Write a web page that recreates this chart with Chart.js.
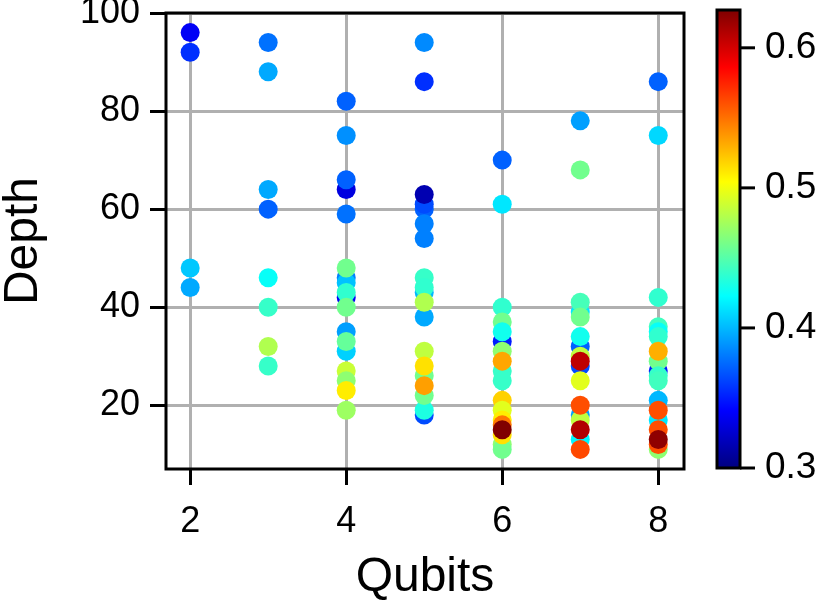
<!DOCTYPE html>
<html>
<head>
<meta charset="utf-8">
<script src="https://cdn.jsdelivr.net/npm/chart.js@4"></script>
<style>
  html, body { margin: 0; padding: 0; background: #fff; }
</style>
</head>
<body>
<canvas id="chart" width="830" height="602"></canvas>
<script>
// ============================== DATA

const qubits = [
  2, 2, 2, 2,
  3, 3, 3, 3, 3, 3, 3, 3,
  4, 4, 4, 4, 4, 4, 4, 4, 4, 4, 4, 4, 4, 4, 4, 4, 4, 4,
  5, 5, 5, 5, 5, 5, 5, 5, 5, 5, 5, 5, 5, 5, 5, 5, 5, 5, 5,
  6, 6, 6, 6, 6, 6, 6, 6, 6, 6, 6, 6, 6, 6, 6, 6, 6, 6,
  7, 7, 7, 7, 7, 7, 7, 7, 7, 7, 7, 7, 7, 7, 7, 7, 7,
  8, 8, 8, 8, 8, 8, 8, 8, 8, 8, 8, 8, 8, 8, 8, 8, 8, 8,
];

const depth = [
  96, 92, 48, 44,
  94, 88, 64, 60, 46, 40, 32, 28,
  82, 75, 64, 66, 59, 42, 46, 45, 48, 43, 40, 35, 31, 33, 27, 25, 23, 19,
  94, 86, 60, 61, 63, 57, 54, 38, 43, 46, 44, 41, 18, 19, 26, 22, 31, 28, 24,
  70, 61, 33, 40, 37, 35, 31, 27, 25, 29, 21, 19, 17, 12, 11, 14, 16, 15,
  78, 68, 39, 41, 38, 32, 28, 34, 30, 25, 29, 18, 13, 17, 20, 15, 11,
  86, 75, 42, 36, 35, 34, 27, 29, 26, 25, 31, 21, 17, 19, 11, 12, 15, 13,
];

const score = [
  0.338, 0.356, 0.405, 0.395,
  0.377, 0.395, 0.395, 0.372, 0.425, 0.440, 0.479, 0.440,
  0.372, 0.387, 0.331, 0.372, 0.377, 0.338, 0.382, 0.403, 0.459, 0.438, 0.459, 0.392, 0.408, 0.455, 0.487, 0.468, 0.510, 0.473,
  0.385, 0.356, 0.372, 0.365, 0.316, 0.382, 0.382, 0.395, 0.400, 0.440, 0.438, 0.479, 0.365, 0.432, 0.459, 0.459, 0.484, 0.514, 0.535,
  0.372, 0.415, 0.350, 0.438, 0.459, 0.428, 0.468, 0.440, 0.440, 0.533, 0.519, 0.495, 0.510, 0.468, 0.459, 0.514, 0.548, 0.627,
  0.392, 0.459, 0.415, 0.445, 0.459, 0.372, 0.365, 0.428, 0.484, 0.495, 0.607, 0.392, 0.420, 0.484, 0.561, 0.611, 0.563,
  0.372, 0.410, 0.438, 0.443, 0.425, 0.438, 0.350, 0.459, 0.440, 0.443, 0.530, 0.400, 0.415, 0.561, 0.468, 0.561, 0.561, 0.622,
];

const xTicks = [2, 4, 6, 8];
const yTicks = [20, 40, 60, 80, 100];
const cbTicks = [0.3, 0.4, 0.5, 0.6];
const cbMin = 0.3;
const cbMax = 0.627;

// ============================== UTILS

const FONT = '"Liberation Sans", Arial, sans-serif';

function jet(v) {
  const t = Math.min(1, Math.max(0, (v - cbMin) / (cbMax - cbMin)));
  const c = (k) => Math.round(255 * Math.min(1, Math.max(0, 1.5 - Math.abs(4 * t - k))));
  return 'rgb(' + c(3) + ',' + c(2) + ',' + c(1) + ')';
}

function frameBox() {
  return {
    id: 'frameBox',
    afterDraw(chart) {
      const { ctx, chartArea: { left, top, width, height } } = chart;
      ctx.save();
      ctx.lineWidth = 3;
      ctx.strokeStyle = '#000';
      ctx.strokeRect(left, top, width, height);
      ctx.restore();
    }
  }
}

function colorBar() {
  return {
    id: 'colorBar',
    afterDraw(chart) {
      const ctx = chart.ctx;
      const x = 717, w = 23, top = 10, bottom = 468;
      const yFor = (v) => bottom - (v - cbMin) / (cbMax - cbMin) * (bottom - top);

      ctx.save();
      const grad = ctx.createLinearGradient(0, bottom, 0, top);
      for (let i = 0; i <= 40; i++) {
        grad.addColorStop(i / 40, jet(cbMin + (cbMax - cbMin) * i / 40));
      }
      ctx.fillStyle = grad;
      ctx.fillRect(x, top, w, bottom - top);
      ctx.lineWidth = 3;
      ctx.strokeStyle = '#000';
      ctx.strokeRect(x, top, w, bottom - top);

      ctx.font = '37px ' + FONT;
      ctx.fillStyle = '#000';
      ctx.textAlign = 'left';
      ctx.textBaseline = 'middle';
      for (const v of cbTicks) {
        const y = yFor(v);
        ctx.beginPath();
        ctx.moveTo(x + w, y);
        ctx.lineTo(x + w + 15, y);
        ctx.stroke();
        ctx.fillText(v.toFixed(1), x + w + 25, y);
      }
      ctx.restore();
    }
  }
}

// ============================== CHART JS

const axisCommon = {
  type: 'linear',
  border: { display: false },
  grid: {
    color: '#b0b0b0',
    lineWidth: 3,
    tickLength: 16,
    tickColor: '#000',
    tickWidth: 3,
  },
};

const tickFont = { family: FONT, size: 36 };

function noPad(scale) {
  scale.paddingTop = 0;
  scale.paddingBottom = 0;
  scale.paddingLeft = 0;
  scale.paddingRight = 0;
}

const config = {
  type: 'scatter',
  data: {
    datasets: [{
      label: 'runs',
      data: qubits.map((q, i) => ({ x: q, y: depth[i] })),
      pointBackgroundColor: score.map(jet),
      pointBorderWidth: 0,
      pointRadius: 9.5,
      pointHoverRadius: 9.5,
    }]
  },
  options: {
    responsive: false,
    animation: false,
    devicePixelRatio: 1,
    layout: {
      padding: { top: 13, right: 146, left: 0, bottom: 0 },
    },
    plugins: {
      legend: { display: false },
      tooltip: { enabled: false },
    },
    scales: {
      x: {
        ...axisCommon,
        min: 1.69,
        max: 8.33,
        afterBuildTicks: (scale) => { scale.ticks = xTicks.map(v => ({ value: v })); },
        afterFit: (scale) => { scale.height = 133; noPad(scale); },
        ticks: { color: '#000', font: tickFont, padding: 15 },
        title: {
          display: true,
          text: 'Qubits',
          color: '#000',
          font: { family: FONT, size: 48, lineHeight: 1 },
          padding: { top: 0, bottom: 0 },
        },
      },
      y: {
        ...axisCommon,
        min: 7,
        max: 100,
        afterBuildTicks: (scale) => { scale.ticks = yTicks.map(v => ({ value: v })); },
        afterFit: (scale) => { scale.width = 166; noPad(scale); },
        ticks: { color: '#000', font: tickFont, padding: 10 },
        title: {
          display: true,
          text: 'Depth',
          color: '#000',
          font: { family: FONT, size: 48, lineHeight: 1 },
          padding: { top: 0, bottom: 0 },
        },
      },
    },
  },
  plugins: [frameBox(), colorBar()],
};

new Chart(document.getElementById('chart'), config);
</script>
</body>
</html>
